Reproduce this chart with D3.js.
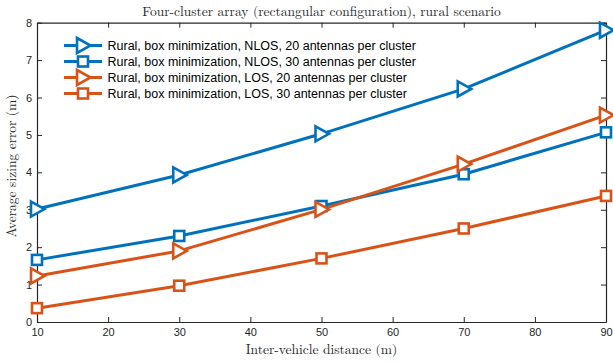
<!DOCTYPE html>
<html>
<head>
<meta charset="utf-8">
<script src="https://cdn.jsdelivr.net/npm/d3@7/dist/d3.min.js"></script>
<style>
  html, body { margin: 0; padding: 0; background: #fff; }
  svg { display: block; }
</style>
</head>
<body>
<svg id="chart" width="613" height="363"></svg>
<script>
// Inter-vehicle distance (m)
const distances = [10, 30, 50, 70, 90];
const xTicks = [10, 20, 30, 40, 50, 60, 70, 80, 90];
const yTicks = [0, 1, 2, 3, 4, 5, 6, 7, 8];

// Average sizing error (m) per configuration
const nlos20 = [3.02, 3.93, 5.03, 6.23, 7.80];
const nlos30 = [1.66, 2.30, 3.10, 3.95, 5.07];
const los20  = [1.23, 1.90, 3.01, 4.22, 5.53];
const los30  = [0.37, 0.97, 1.70, 2.50, 3.37];

const seriesNames = [
  "Rural, box minimization, NLOS, 20 antennas per cluster",
  "Rural, box minimization, NLOS, 30 antennas per cluster",
  "Rural, box minimization, LOS, 20 antennas per cluster",
  "Rural, box minimization, LOS, 30 antennas per cluster"
];

const blue = "#0072BD", orange = "#D95319";
const series = [
  { name: seriesNames[0], values: nlos20, color: blue,   marker: "tri" },
  { name: seriesNames[1], values: nlos30, color: blue,   marker: "sq" },
  { name: seriesNames[2], values: los20,  color: orange, marker: "tri" },
  { name: seriesNames[3], values: los30,  color: orange, marker: "sq" }
];

const svg = d3.select("#chart");
const L = 37, R = 606, T = 22.7, B = 322;
const x = d3.scaleLinear().domain([10, 90]).range([L, R]);
const y = d3.scaleLinear().domain([0, 8]).range([B, T]);

const axisColor = "#262626";
const tickFont = "Liberation Sans, Arial, sans-serif";

// Axes with inward ticks on all four sides
function styleAxis(g) {
  g.select(".domain").attr("stroke", axisColor).attr("stroke-width", 1.2);
  g.selectAll(".tick line").attr("stroke", axisColor).attr("stroke-width", 1);
  g.selectAll(".tick text").attr("fill", axisColor)
    .style("font-family", tickFont).style("font-size", "11px");
}

svg.append("g").attr("transform", `translate(0,${B})`)
  .call(d3.axisBottom(x).tickValues(xTicks).tickSizeInner(-5).tickSizeOuter(0).tickPadding(6))
  .call(styleAxis);
svg.append("g").attr("transform", `translate(0,${T})`)
  .call(d3.axisTop(x).tickValues(xTicks).tickSizeInner(-5).tickSizeOuter(0).tickFormat(""))
  .call(styleAxis);
svg.append("g").attr("transform", `translate(${L},0)`)
  .call(d3.axisLeft(y).tickValues(yTicks).tickSizeInner(-5).tickSizeOuter(0).tickPadding(5))
  .call(styleAxis);
svg.append("g").attr("transform", `translate(${R},0)`)
  .call(d3.axisRight(y).tickValues(yTicks).tickSizeInner(-5).tickSizeOuter(0).tickFormat(""))
  .call(styleAxis);

// Marker shapes
function drawMarker(g, cx, cy, kind, color) {
  if (kind === "tri") {
    const h = 7.5, w = 7.5;
    g.append("path")
      .attr("d", `M${cx - w * 0.8},${cy - h} L${cx + w},${cy} L${cx - w * 0.8},${cy + h} Z`)
      .attr("fill", "#fff").attr("stroke", color).attr("stroke-width", 2.6)
      .attr("stroke-linejoin", "miter");
  } else {
    const s = 5;
    g.append("rect")
      .attr("x", cx - s).attr("y", cy - s).attr("width", 2 * s).attr("height", 2 * s)
      .attr("fill", "#fff").attr("stroke", color).attr("stroke-width", 2.6);
  }
}

const line = d3.line().x((d, i) => x(distances[i])).y(d => y(d));
const plot = svg.append("g");
series.forEach(s => {
  plot.append("path").datum(s.values).attr("d", line)
    .attr("fill", "none").attr("stroke", s.color).attr("stroke-width", 3)
    .attr("stroke-linejoin", "round");
});
series.forEach(s => {
  const g = plot.append("g");
  s.values.forEach((v, i) => drawMarker(g, x(distances[i]), y(v), s.marker, s.color));
});

// Legend
const legend = svg.append("g");
series.forEach((s, i) => {
  const ly = 45.5 + i * 16;
  legend.append("line").attr("x1", 64).attr("x2", 102).attr("y1", ly).attr("y2", ly)
    .attr("stroke", s.color).attr("stroke-width", 3);
  drawMarker(legend, 83, ly, s.marker, s.color);
  legend.append("text").attr("x", 107.5).attr("y", ly).attr("dy", "0.35em")
    .style("font-family", tickFont).style("font-size", "12.5px").attr("fill", "#000")
    .text(s.name);
});

// Titles
const serif = "Latin Modern Roman, CMU Serif, Liberation Serif, DejaVu Serif, serif";
svg.append("text").attr("x", (L + R) / 2).attr("y", 16).attr("text-anchor", "middle")
  .style("font-family", serif).style("font-size", "13.5px").attr("fill", "#262626")
  .text("Four-cluster array (rectangular configuration), rural scenario");
svg.append("text").attr("x", (L + R) / 2).attr("y", 354).attr("text-anchor", "middle")
  .style("font-family", serif).style("font-size", "13.5px").attr("fill", "#262626")
  .text("Inter-vehicle distance (m)");
svg.append("text").attr("transform", "translate(16,166) rotate(-90)")
  .attr("text-anchor", "middle")
  .style("font-family", serif).style("font-size", "13.5px").attr("fill", "#262626")
  .text("Average sizing error (m)");
</script>
</body>
</html>
